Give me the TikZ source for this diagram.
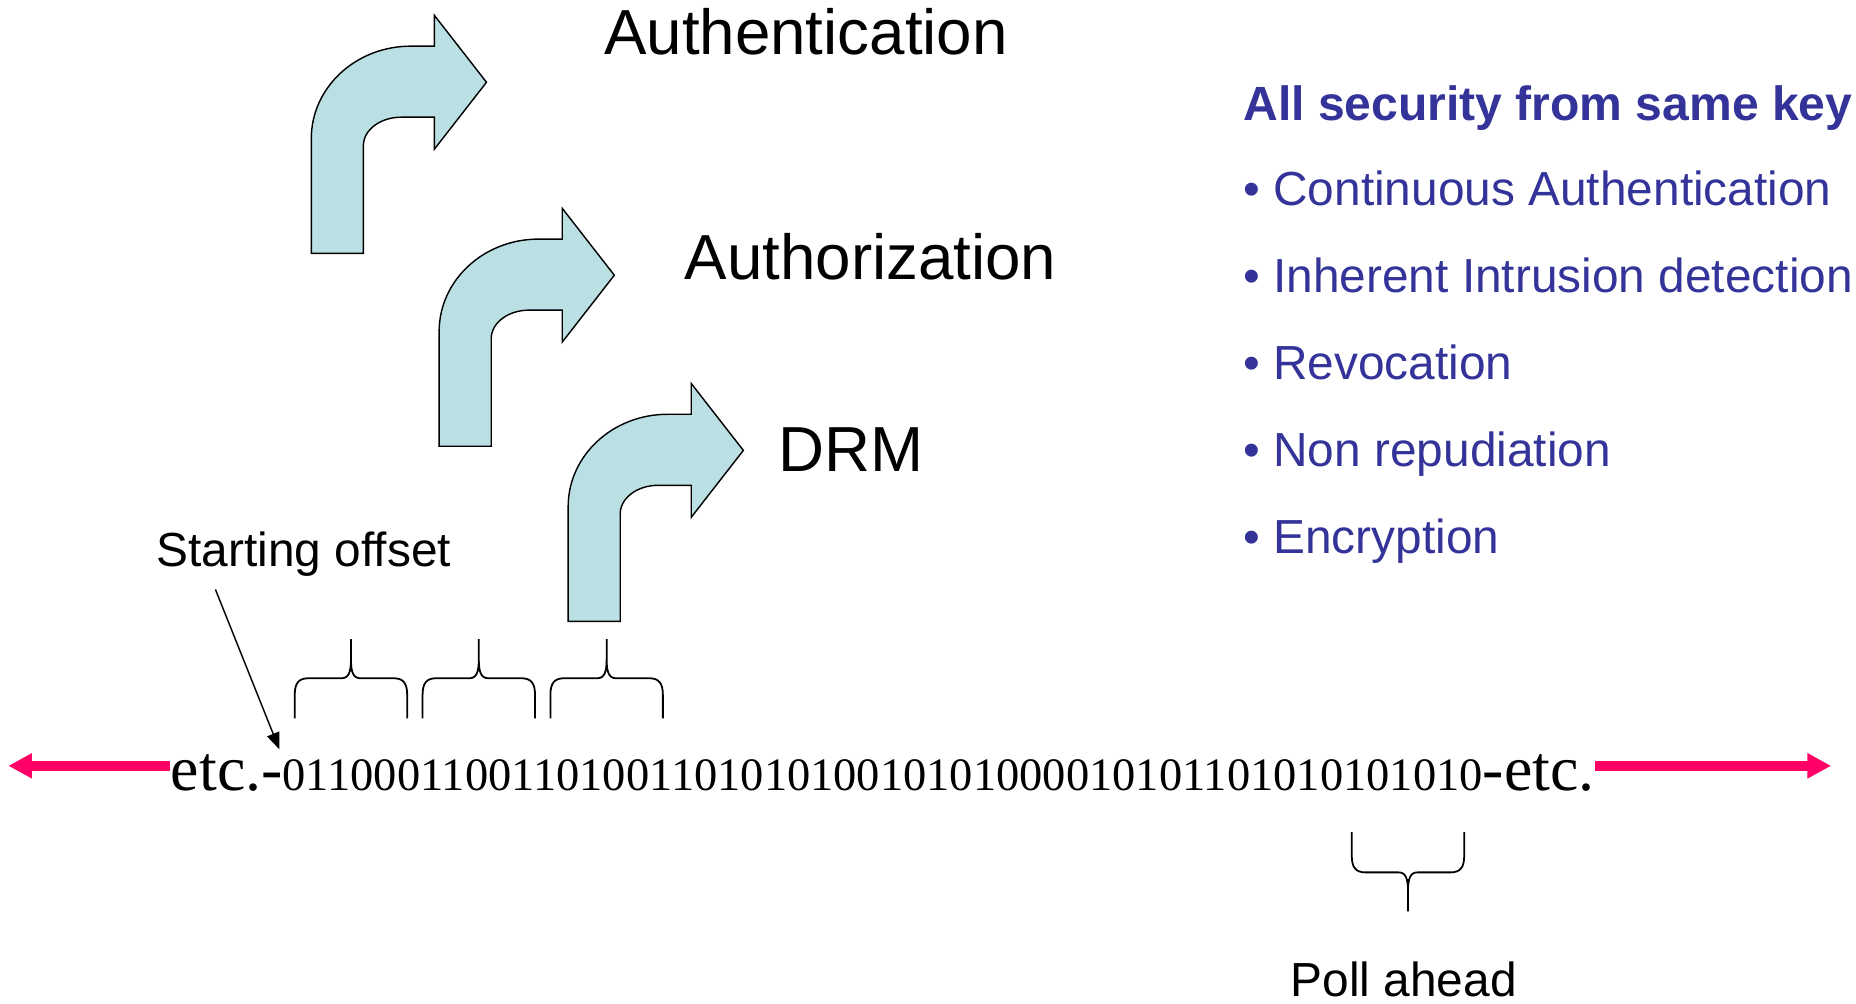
\documentclass[tikz,border=0pt]{standalone}
\usepackage{fontspec}
\setmainfont{Liberation Sans}
\newfontfamily\bitsfont{Liberation Serif}
\usetikzlibrary{arrows.meta}

\definecolor{bendblue}{RGB}{187,224,227}
\definecolor{keyblue}{RGB}{51,51,153}
\definecolor{streampink}{RGB}{255,0,102}

\tikzset{
	bigtext/.style={anchor=base west, inner sep=0pt, font=\fontsize{26.9pt}{32pt}\selectfont},
	smalltext/.style={anchor=base west, inner sep=0pt, font=\fontsize{20.2pt}{24pt}\selectfont},
	keytext/.style={smalltext, text=keyblue},
	bitstext/.style={anchor=base west, inner sep=0pt, font=\bitsfont},
	stream/.style={draw=streampink, line width=4.5pt, -{Triangle[length=10pt,width=10pt]}},
	pointer/.style={line width=0.6pt, -{Triangle[length=7pt,width=5.5pt]}},
	bendarrow/.pic={
		\filldraw[fill=bendblue, draw=black, line width=0.6pt]
			(0,0) -- (44,0) -- (44,91) arc[start angle=180, end angle=90, x radius=32, y radius=24]
			-- (104,115) -- (104,88) -- (148,144.5) -- (104,201) -- (104,175) -- (84,175)
			arc[start angle=90, end angle=180, x radius=84, y radius=78] -- cycle;
	},
	curly/.pic={
		\draw[line width=0.75pt] (-47.5,-34) -- (-47.5,-14) .. controls (-47.5,-4) and (-44,0) .. (-36,0)
			-- (-8,0) .. controls (-2,0) and (0,5) .. (0,16) -- (0,33)
			-- (0,16) .. controls (0,5) and (2,0) .. (8,0)
			-- (36,0) .. controls (44,0) and (47.5,-4) .. (47.5,-14) -- (47.5,-34);
	}
}

\begin{document}
\begin{tikzpicture}[x=0.5pt, y=0.5pt]
\useasboundingbox (0,0) rectangle (1568,848);

% bent arrows
\pic at (263,634) {bendarrow};
\pic at (371,471) {bendarrow};
\pic at (480,323) {bendarrow};

\node (auth) at (510,801.6) [bigtext] {Authentication};
\node (authz) at (578,612) [bigtext] {Authorization};
\node (drm) at (657,450) [bigtext] {DRM};

% key list
\node (keyhead) at (1050,746.5) [keytext, font=\fontsize{20.3pt}{24pt}\selectfont\bfseries] {All security from same key};
\node (contauth) at (1050,674) [keytext] {• Continuous Authentication};
\node (intrusion) at (1050,600.7) [keytext] {• Inherent Intrusion detection};
\node (revoke) at (1050,527.4) [keytext] {• Revocation};
\node (nonrep) at (1050,454.1) [keytext] {• Non repudiation};
\node (encrypt) at (1050,380.8) [keytext] {• Encryption};

% bit stream
\node (bits) at (144,180) [bitstext] {{\fontsize{27pt}{32pt}\selectfont etc.-}{\fontsize{19.64pt}{24pt}\selectfont 0110001100110100110101010010101000010101101010101010}{\fontsize{27pt}{32pt}\selectfont -etc.}};

\coordinate (lefttip) at (7,201);
\coordinate (righttip) at (1547,201);
\draw [stream] (lefttip -| bits.west) -- (lefttip);
\draw [stream] (righttip -| bits.east) -- (righttip);

% braces
\pic at (296.5,275) {curly};
\pic at (404.5,275) {curly};
\pic at (512.5,275) {curly};
\pic[yscale=-1] at (1189.5,111) {curly};

\node (offset) at (132,369) [smalltext] {Starting offset};
\coordinate (offstart) at (182,350);
\coordinate (offtip) at (236,215);
\draw [pointer] (offstart) -- (offtip);

\node (poll) at (1090,6) [smalltext] {Poll ahead};
\end{tikzpicture}
\end{document}
